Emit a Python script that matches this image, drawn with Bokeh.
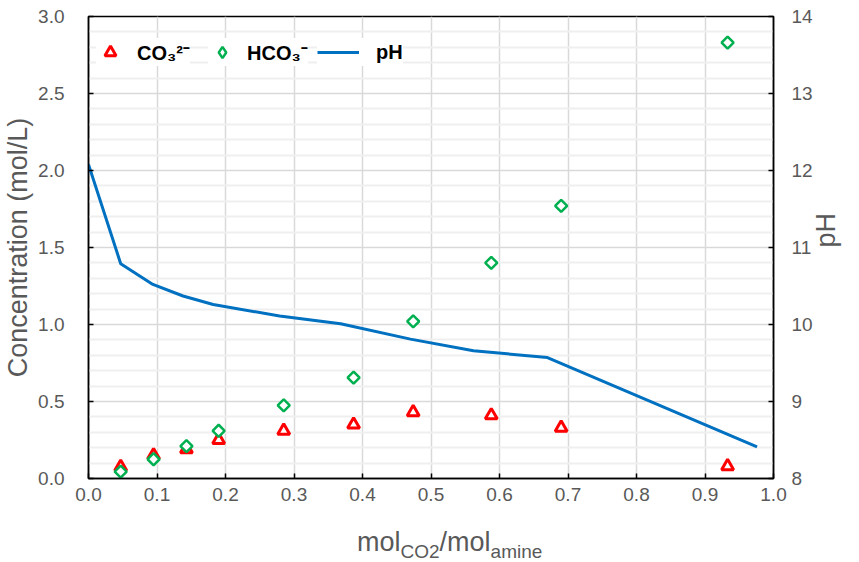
import math
from bokeh.plotting import figure
from bokeh.layouts import column
from bokeh.models import (Range1d, LinearAxis, FixedTicker, PrintfTickFormatter,
                          Legend, LegendItem, Div)
from bokeh.embed import file_html
from bokeh.resources import INLINE

# ---- data ----
loading = [0.047, 0.095, 0.143, 0.190, 0.285, 0.387, 0.474, 0.588, 0.690, 0.933]
co3 = [0.075, 0.15, 0.19, 0.25, 0.31, 0.35, 0.43, 0.41, 0.33, 0.08]
hco3 = [0.045, 0.125, 0.21, 0.31, 0.475, 0.655, 1.02, 1.40, 1.77, 2.83]
ph_loading = [0.0, 0.047, 0.094, 0.138, 0.182, 0.279, 0.368, 0.470, 0.562, 0.670, 0.976]
ph = [12.08, 10.79, 10.52, 10.37, 10.26, 10.11, 10.01, 9.81, 9.66, 9.57, 8.41]

x_ticks = [0.0, 0.1, 0.2, 0.3, 0.4, 0.5, 0.6, 0.7, 0.8, 0.9, 1.0]
conc_ticks = [0.0, 0.5, 1.0, 1.5, 2.0, 2.5, 3.0]
conc_minor = [0.1, 0.2, 0.3, 0.4, 0.6, 0.7, 0.8, 0.9, 1.1, 1.2, 1.3, 1.4, 1.6, 1.7, 1.8, 1.9,
              2.1, 2.2, 2.3, 2.4, 2.6, 2.7, 2.8, 2.9]
ph_ticks = [8, 9, 10, 11, 12, 13, 14]

FONT = "Liberation Sans"
GREY = "#595959"

p = figure(width=859, height=520, output_backend="svg", toolbar_location=None,
           x_range=Range1d(0, 1), y_range=Range1d(0, 3),
           min_border_left=88, min_border_right=86, min_border_top=16, min_border_bottom=42)
p.extra_y_ranges = {"ph": Range1d(8, 14)}
p.background_fill_color = "white"
p.border_fill_color = "white"
p.outline_line_color = "black"
p.outline_line_width = 1.5

# axes
p.xaxis.ticker = FixedTicker(ticks=x_ticks)
p.xaxis.formatter = PrintfTickFormatter(format="%.1f")
p.yaxis.ticker = FixedTicker(ticks=conc_ticks, minor_ticks=conc_minor)
p.yaxis.formatter = PrintfTickFormatter(format="%.1f")

rax = LinearAxis(y_range_name="ph", ticker=FixedTicker(ticks=ph_ticks))
p.add_layout(rax, "right")

for ax in [p.xaxis[0], p.yaxis[0], rax]:
    ax.axis_line_color = "black"
    ax.axis_line_width = 1.5
    ax.major_tick_in = 5
    ax.major_tick_out = 0
    ax.major_tick_line_color = "black"
    ax.major_tick_line_width = 1.5
    ax.minor_tick_line_color = None
    ax.major_label_text_font = FONT
    ax.major_label_text_font_size = "19px"
    ax.major_label_text_color = GREY
    ax.major_label_standoff = 20
    ax.axis_label_text_font = FONT
    ax.axis_label_text_font_size = "27px"
    ax.axis_label_text_font_style = "normal"
    ax.axis_label_text_color = GREY
p.xaxis.major_label_standoff = 9

p.yaxis.axis_label = "Concentration (mol/L)"
p.yaxis.axis_label_standoff = 2
rax.major_label_standoff = 18
rax.axis_label = "pH"
rax.axis_label_standoff = 10
rax.axis_label_orientation = math.pi / 2

# grids
p.xgrid.grid_line_color = "#d9d9d9"
p.xgrid.grid_line_width = 1.5
p.ygrid.grid_line_color = "#d9d9d9"
p.ygrid.grid_line_width = 1.5
p.ygrid.minor_grid_line_color = "#efefef"
p.ygrid.minor_grid_line_width = 2

# data
ph_r = p.line(ph_loading, ph, y_range_name="ph", line_color="#0070C0", line_width=3)
co3_r = p.scatter(loading, co3, marker="triangle", size=12, line_color="#FF0000",
                  fill_color="white", line_width=3)
hco3_r = p.scatter(loading, hco3, marker="square", angle=math.pi / 4, size=8.5,
                   line_color="#00B050", fill_color="white", line_width=2.5)
# hidden twin of the HCO3- series, used only for the legend symbol (diamond)
hco3_leg = p.scatter(loading, hco3, marker="diamond", size=11, line_color="#00B050",
                     fill_color="white", line_width=2.5, visible=False)

# legends
def make_legend(label, r, vx, gw, standoff):
    lg = Legend(items=[LegendItem(label=label, renderers=[r])], location=(vx, 412),
                glyph_width=gw, glyph_height=28, label_standoff=standoff, padding=3,
                spacing=0, margin=0, border_line_color=None, background_fill_color="white",
                background_fill_alpha=1.0, label_text_font=FONT, label_text_font_style="bold",
                label_text_font_size="20px", label_text_color="black",
                inactive_fill_alpha=0.0)
    p.add_layout(lg)

make_legend("CO\u2083\u00b2\u207b", co3_r, 8, 28, 13)
make_legend("HCO\u2083\u207b", hco3_leg, 120, 28, 11)
make_legend("pH", ph_r, 229, 42, 17)

# x-axis title with subscripts
xtitle = Div(
    text=('<div style="margin-top:7px; margin-left:357px; line-height:30px; white-space:nowrap; '
          'font-family:\'Liberation Sans\'; font-size:27px; color:#595959;">'
          'mol<span style="font-size:19px; position:relative; top:7px;">CO2</span>'
          '/mol<span style="font-size:19px; position:relative; top:7px;">amine</span></div>'),
    width=859, height=42, margin=0)

layout = column(p, xtitle, spacing=0)
open("out.html", "w").write(file_html(layout, INLINE))
